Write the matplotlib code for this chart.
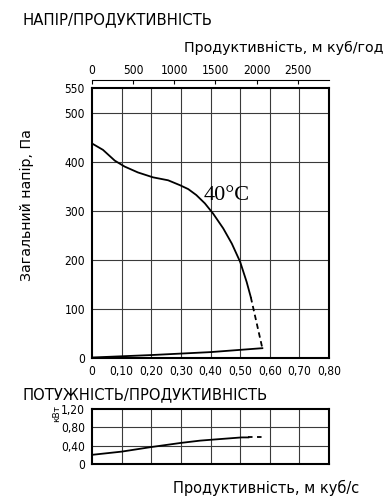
import matplotlib
matplotlib.use("Agg")
import matplotlib.pyplot as plt

plt.rcParams['font.family'] = ['DejaVu Sans']

# тиск / продуктивність, 40°C
q_press = [0.0, 0.037, 0.077, 0.110, 0.155, 0.206, 0.257, 0.297, 0.325, 0.352, 0.381,
           0.409, 0.443, 0.472, 0.500, 0.522, 0.536]
p_press = [437, 424, 402, 390, 378, 368, 362, 352, 344, 332, 315,
           294, 264, 233, 196, 155, 124]
q_press_dash = [0.536, 0.575]
p_press_dash = [124, 20]

# нижня лінія на графіку тиску
q_low = [0.0, 0.2, 0.4, 0.575]
p_low = [1, 6, 12, 20]

# потужність
q_pow = [0.0, 0.1, 0.2, 0.3, 0.365, 0.404, 0.505, 0.528]
n_pow = [0.20, 0.27, 0.37, 0.46, 0.51, 0.53, 0.58, 0.58]
q_pow_dash = [0.528, 0.587]
n_pow_dash = [0.58, 0.58]

x_ticks = [0, 0.1, 0.2, 0.3, 0.4, 0.5, 0.6, 0.7, 0.8]
x_labels = ['0', '0,10', '0,20', '0,30', '0,40', '0,50', '0,60', '0,70', '0,80']
y_ticks = [0, 100, 200, 300, 400, 500, 550]
top_ticks = [0, 500, 1000, 1500, 2000, 2500]
pow_ticks = [0, 0.4, 0.8, 1.2]
pow_labels = ['0', '0,40', '0,80', '1,20']

W, H = 389, 500
fig = plt.figure(figsize=(W / 100, H / 100), dpi=100)

def box(l, t, r, b):
    return [l / W, 1 - b / H, (r - l) / W, (b - t) / H]

tick_font = dict(family='DejaVu Sans', stretch='condensed', size=8.6)
grid_c = '#3a3a3a'

ax = fig.add_axes(box(92, 88, 329, 358))
ax.set_xlim(0, 0.8)
ax.set_ylim(0, 550)
for q in x_ticks[1:-1]:
    ax.axvline(q, color=grid_c, lw=0.8)
for p in y_ticks[1:-1]:
    ax.axhline(p, color=grid_c, lw=0.8)
ax.plot(q_press, p_press, color='black', lw=1.3, solid_joinstyle='round')
ax.plot(q_press_dash, p_press_dash, color='black', lw=1.3, ls=(0, (3, 2)))
ax.plot(q_low, p_low, color='black', lw=1.3)
ax.text(0.454, 332, '40°C', family='Liberation Serif', size=16, ha='center', va='center')
ax.tick_params(length=0, pad=5)
ax.set_xticks(x_ticks)
ax.set_xticklabels(x_labels, fontdict=tick_font)
ax.set_yticks(y_ticks)
ax.set_yticklabels([str(v) for v in y_ticks], fontdict=tick_font)
for s in ax.spines.values():
    s.set_linewidth(1.5)

# верхня шкала, м куб/год
top = ax.twiny()
for name in ['left', 'right', 'bottom']:
    top.spines[name].set_visible(False)
top.spines['top'].set_position(('outward', 6))
top.spines['top'].set_linewidth(0.8)
top.set_xlim(0, 0.8 * 3600)
top.tick_params(direction='in', length=3, width=0.8, pad=2)
top.set_xticks(top_ticks)
top.set_xticklabels([str(v) for v in top_ticks], fontdict=tick_font)

fig.text(22 / W, 1 - 20 / H, 'НАПІР/ПРОДУКТИВНІСТЬ', size=10.7, ha='left', va='center')
fig.text(384 / W, 1 - 48 / H, 'Продуктивність, м куб/год', size=10.3, ha='right', va='center')
fig.text(27 / W, 1 - 205 / H, 'Загальний напір, Па', size=10.2, rotation=90, ha='center', va='center')

ax2 = fig.add_axes(box(92, 409, 329, 464))
ax2.set_xlim(0, 0.8)
ax2.set_ylim(0, 1.2)
for q in x_ticks[1:-1]:
    ax2.axvline(q, color=grid_c, lw=0.8)
for n in pow_ticks[1:-1]:
    ax2.axhline(n, color=grid_c, lw=0.8)
ax2.plot(q_pow, n_pow, color='black', lw=1.3, solid_joinstyle='round')
ax2.plot(q_pow_dash, n_pow_dash, color='black', lw=1.3, ls=(0, (2.5, 2.5)))
ax2.tick_params(length=0, pad=5)
ax2.set_xticks([])
ax2.set_yticks(pow_ticks)
ax2.set_yticklabels(pow_labels, fontdict=tick_font)
for s in ax2.spines.values():
    s.set_linewidth(1.5)

fig.text(22 / W, 1 - 395 / H, 'ПОТУЖНІСТЬ/ПРОДУКТИВНІСТЬ', size=10.6, ha='left', va='center')
fig.text(57 / W, 1 - 414 / H, 'кВт', size=6.5, rotation=90, ha='center', va='center')
fig.text(266 / W, 1 - 488 / H, 'Продуктивність, м куб/с', size=10.5, ha='center', va='center')

fig.savefig('out.png', dpi=100)
